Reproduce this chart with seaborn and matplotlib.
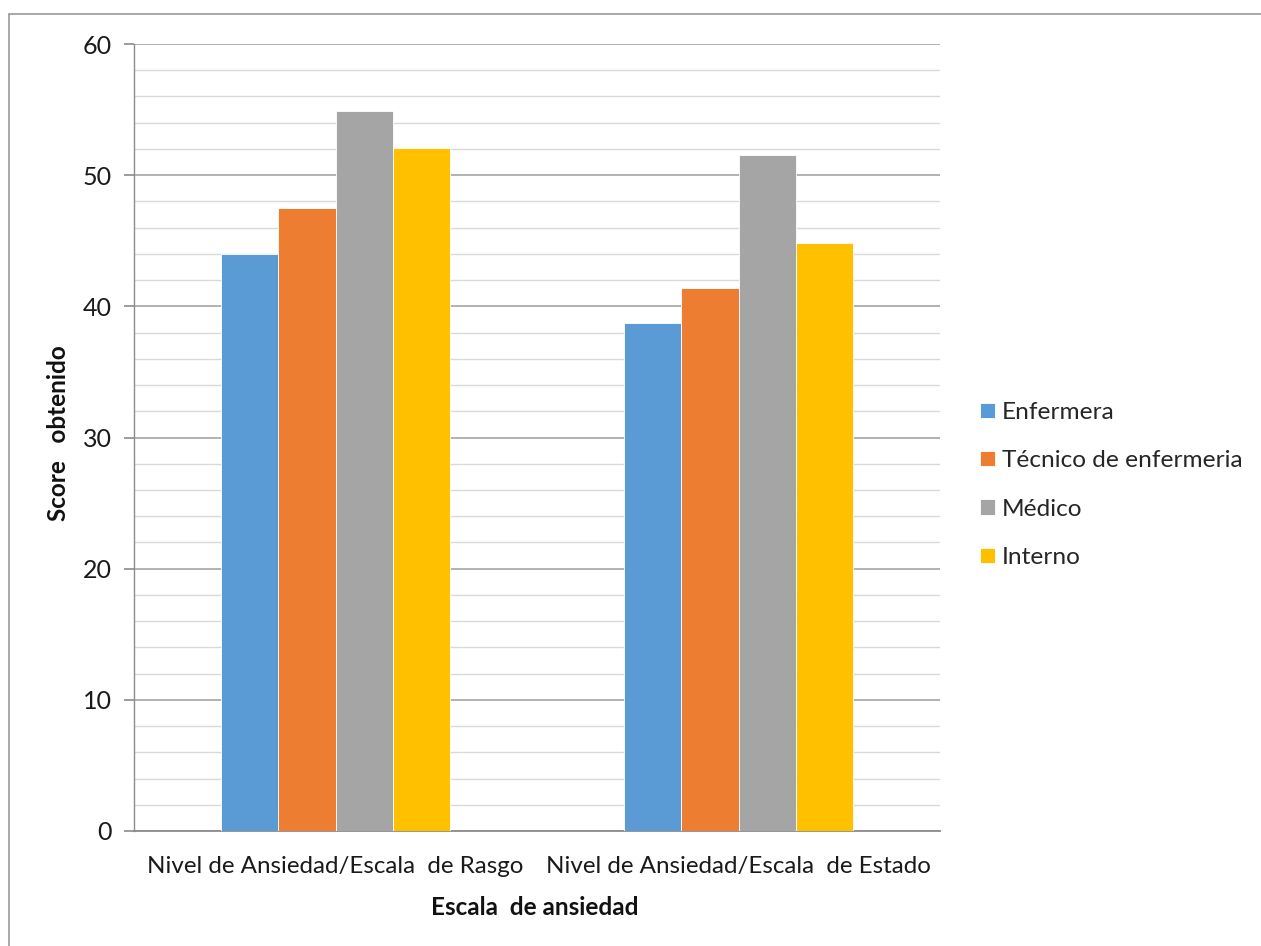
import matplotlib
matplotlib.use("Agg")
import matplotlib.pyplot as plt
from matplotlib.lines import Line2D
from matplotlib.ticker import MultipleLocator
import seaborn as sns
import pandas as pd

# Mean anxiety scores by staff group for each STAI scale
escalas = ["Nivel de Ansiedad/Escala  de Rasgo", "Nivel de Ansiedad/Escala  de Estado"]
grupos = ["Enfermera", "Técnico de enfermeria", "Médico", "Interno"]
rasgo = [44.0, 47.5, 54.9, 52.1]
estado = [38.7, 41.4, 51.5, 44.8]
colores = ["#5B9BD5", "#ED7D31", "#A5A5A5", "#FFC000"]

df = pd.DataFrame({
    "escala": [escalas[0]] * len(grupos) + [escalas[1]] * len(grupos),
    "grupo": grupos * 2,
    "score": rasgo + estado,
})

sns.set_theme(style="white")
plt.rcParams["font.family"] = ["Lato", "DejaVu Sans"]

fig = plt.figure(figsize=(12.61, 9.46), dpi=100)
ax = fig.add_axes([134 / 1261, 1 - 831 / 946, (940 - 134) / 1261, (831 - 44) / 946])

sns.barplot(data=df, x="escala", y="score", hue="grupo", order=escalas,
            hue_order=grupos, palette=colores, width=0.57, gap=0,
            edgecolor="white", linewidth=0.6, saturation=1, ax=ax, zorder=3)

ax.set_ylim(0, 60)
ax.set_xlim(-0.5, 1.5)
ax.yaxis.set_major_locator(MultipleLocator(10))
ax.yaxis.set_minor_locator(MultipleLocator(2))
ax.grid(axis="y", which="major", color="#ababab", linewidth=1.3, zorder=0)
ax.grid(axis="y", which="minor", color="#d9d9d9", linewidth=1.0, zorder=0)
ax.set_axisbelow(True)

for side in ("top", "right"):
    ax.spines[side].set_visible(False)
ax.spines["left"].set_color("#8c8c8c")
ax.spines["left"].set_linewidth(1.0)
ax.spines["bottom"].set_color("#8c8c8c")
ax.spines["bottom"].set_linewidth(1.3)

ax.tick_params(axis="y", which="major", left=True, length=7, width=1.2,
               color="#8c8c8c", pad=9, labelsize=18, labelcolor="#1a1a1a")
ax.tick_params(axis="y", which="minor", left=False, length=0)
ax.tick_params(axis="x", bottom=False, length=0, pad=18, labelsize=17.4,
               labelcolor="#1a1a1a")

ax.set_xlabel("Escala  de ansiedad", fontsize=17.5, fontweight="bold", color="#111111")
ax.set_ylabel("Score   obtenido", fontsize=17.5, fontweight="bold", color="#111111")
ax.xaxis.set_label_coords(0.4975, -0.083)
ax.yaxis.set_label_coords(-0.079, 0.505)

handles, labels = ax.get_legend_handles_labels()
ax.legend(handles, labels, loc="center left", bbox_to_anchor=(980 / 1261, 1 - 485 / 946),
          bbox_transform=fig.transFigure, frameon=False, fontsize=17.6,
          handlelength=0.6, handleheight=0.6, handletextpad=0.3,
          labelspacing=1.12, borderpad=0, borderaxespad=0)

# Thin frame around the chart area
fig.add_artist(Line2D([8.5 / 1261, 8.5 / 1261], [0, 1 - 14 / 946],
                      transform=fig.transFigure, color="#9a9a9a", linewidth=1.2))
fig.add_artist(Line2D([8.5 / 1261, 1], [1 - 14 / 946, 1 - 14 / 946],
                      transform=fig.transFigure, color="#9a9a9a", linewidth=1.2))

fig.savefig("out.png", dpi=100)
